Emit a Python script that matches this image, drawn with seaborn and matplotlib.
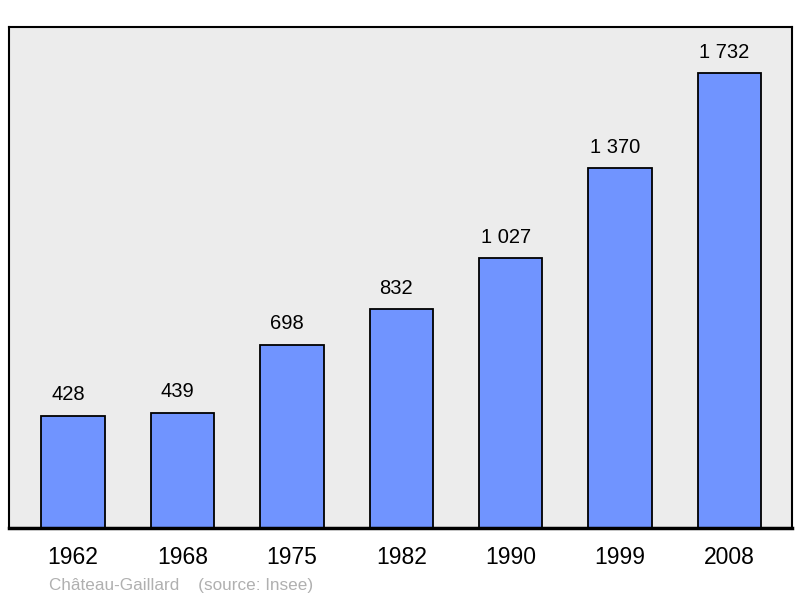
import seaborn as sns
import matplotlib.pyplot as plt
import pandas as pd

# Données de population
years = ['1962', '1968', '1975', '1982', '1990', '1999', '2008']
population = [428, 439, 698, 832, 1027, 1370, 1732]
value_labels = ['428', '439', '698', '832', '1 027', '1 370', '1 732']

df = pd.DataFrame({'year': years, 'population': population})

plt.rcParams['font.family'] = ['Liberation Sans', 'DejaVu Sans']

fig = plt.figure(figsize=(8, 5.98), dpi=100)
ax = fig.add_axes([0.01125, 0.1171, 0.97875, 0.8378])
ax.set_facecolor('#ececec')

sns.barplot(data=df, x='year', y='population', order=years, color='#7094ff',
            saturation=1, width=0.58, edgecolor='black', linewidth=1.3, ax=ax)

# Étiquettes au-dessus des barres (légèrement décalées à gauche comme l'original)
for i, (v, lab) in enumerate(zip(population, value_labels)):
    ax.annotate(lab, (i, v), xytext=(-3.6, 11), textcoords='offset points',
                ha='center', va='baseline', fontsize=14.5, color='black')

ax.set_xlim(-0.585, 6.571)
ax.set_ylim(0, 1907)
ax.set_yticks([])
ax.set_xlabel('')
ax.set_ylabel('')
ax.tick_params(axis='x', length=0, pad=13, labelsize=16.5)

for s in ax.spines.values():
    s.set_linewidth(1.5)
    s.set_color('black')
ax.spines['bottom'].set_linewidth(2.5)

fig.text(0.061, 0.013, 'Château-Gaillard    (source: Insee)', fontsize=12.3,
         color='#b0b0b0', ha='left', va='baseline')

fig.savefig('out.png', dpi=100)
